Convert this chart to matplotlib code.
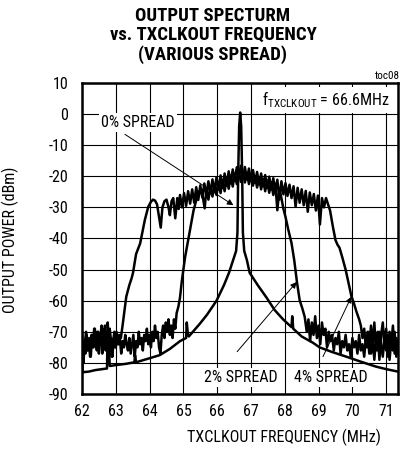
import matplotlib
matplotlib.use('Agg')
import matplotlib.pyplot as plt

# narrow sans face, close to the Arial Narrow of the original datasheet plot
FONT = ['Roboto Condensed', 'Liberation Sans', 'DejaVu Sans']
plt.rcParams['font.family'] = FONT
plt.rcParams['mathtext.fontset'] = 'custom'
plt.rcParams['mathtext.rm'] = 'Roboto Condensed'
plt.rcParams['axes.unicode_minus'] = False

# ---- data (MHz, dBm) ----
freq_0 = [62.00, 62.02, 62.20, 62.40, 62.60, 62.74, 62.76, 62.79, 62.82, 63.00,
          63.30, 63.55, 63.57, 63.60, 64.00, 64.30, 64.60, 64.90, 65.08, 65.10,
          65.13, 65.16, 65.48, 65.70, 65.98, 66.20, 66.35, 66.47, 66.56, 66.60,
          66.62, 66.65, 66.68, 66.71, 66.74, 66.76, 66.80, 66.88, 66.96, 67.20,
          67.46, 67.70, 67.95, 68.20, 68.22, 68.25, 68.50, 68.83, 69.03, 69.40,
          69.82, 70.22, 70.50, 70.70, 71.00, 71.35]
power_0 = [-75, -83, -82.8, -82.3, -82, -81.8, -67, -72, -81, -80.7,
           -80.3, -79.8, -77.5, -79.8, -78.5, -77.5, -75.5, -73, -72, -67,
           -70.5, -71.5, -67.5, -64.5, -60, -55, -51, -47, -44, -38,
           -20, -4, 0.5, -4, -20, -38, -44, -47, -51, -55,
           -59, -63, -66, -68.5, -65, -69, -71.5, -73.5, -75, -76.5,
           -78, -79.5, -80.5, -81.2, -82, -82.8]

freq_2 = [62.00, 62.04, 62.08, 62.12, 62.16, 62.20, 62.24, 62.28, 62.32, 62.36,
          62.40, 62.44, 62.48, 62.52, 62.56, 62.60, 62.64, 62.68, 62.72, 62.76,
          62.80, 62.84, 62.88, 62.92, 62.96, 63.00, 63.04, 63.08, 63.12, 63.16,
          63.20, 63.24, 63.28, 63.32, 63.36, 63.40, 63.44, 63.48, 63.52, 63.56,
          63.60, 63.64, 63.68, 63.72, 63.76, 63.80, 63.84, 63.88, 63.92, 63.96,
          64.00, 64.04, 64.08, 64.12, 64.16, 64.20, 64.24, 64.28, 64.32, 64.36,
          64.40, 64.44, 64.48, 64.52, 64.56, 64.60, 64.64, 64.68, 64.72, 64.76,
          64.80, 64.85, 64.90, 64.95, 65.00, 65.05, 65.10, 65.20, 65.30, 65.38,
          65.45, 65.53, 65.58, 65.63, 65.68, 65.74, 65.80, 65.86, 65.92, 65.98,
          66.04, 66.10, 66.16, 66.22, 66.28, 66.34, 66.40, 66.46, 66.52, 66.58,
          66.64, 66.70, 66.76, 66.82, 66.88, 66.94, 67.00, 67.06, 67.12, 67.18,
          67.24, 67.30, 67.36, 67.42, 67.48, 67.54, 67.60, 67.66, 67.72, 67.78,
          67.84, 67.90, 67.96, 68.02, 68.10, 68.20, 68.28, 68.36, 68.44, 68.52,
          68.59, 68.65, 68.70, 68.75, 68.80, 68.85, 68.90, 68.95, 69.00, 69.05,
          69.10, 69.15, 69.20, 69.25, 69.30, 69.35, 69.40, 69.45, 69.50, 69.55,
          69.60, 69.65, 69.70, 69.75, 69.80, 69.85, 69.90, 69.95, 70.00, 70.05,
          70.10, 70.15, 70.20, 70.25, 70.30, 70.35, 70.40, 70.45, 70.50, 70.55,
          70.60, 70.65, 70.70, 70.75, 70.80, 70.85, 70.90, 70.95, 71.00, 71.05,
          71.10, 71.15, 71.20, 71.25, 71.30, 71.35]
power_2 = [-72, -80, -74, -70, -76, -73, -78, -71, -75, -69,
           -73, -76, -70, -74, -71, -77, -72, -68, -74, -70,
           -76, -72, -78, -73, -70, -75, -71, -74, -72, -77,
           -73, -75, -71, -74, -76, -72, -77, -74, -71, -78,
           -73, -75, -70, -74, -72, -76, -71, -73, -69, -74,
           -71, -75, -70, -73, -68, -72, -70, -75, -77, -71,
           -68, -72, -67, -70, -66, -71, -68, -72, -66, -69,
           -64, -62, -59, -54, -50, -46, -43, -37, -31, -27.7,
           -25, -24.4, -27, -30.3, -24.0, -27.5, -23.3, -26.5, -22.6, -26.0,
           -21.9, -25.4, -21.2, -24.8, -20.6, -24.0, -19.8, -23.3, -19.2, -22.5,
           -18.4, -21.8, -18.5, -22.0, -18.9, -22.5, -19.4, -23.0, -19.9, -23.6,
           -20.4, -24.2, -20.9, -24.8, -21.4, -25.3, -21.9, -26.0, -22.4, -30.9,
           -24.0, -27, -30.5, -33, -37, -41.5, -47, -54, -59.8, -62.5,
           -65.2, -70, -66, -73, -67, -71, -65, -72, -68, -74,
           -67, -71, -69, -75, -70, -73, -71, -76, -72, -74,
           -70, -77, -73, -75, -71, -76, -74, -78, -72, -75,
           -73, -77, -71, -76, -74, -78, -72, -75, -70, -77,
           -73, -79, -72, -76, -70, -74, -78, -72, -76, -71,
           -79, -73, -76, -70, -78, -74]

freq_4 = [62.00, 62.03, 62.07, 62.10, 62.14, 62.18, 62.22, 62.26, 62.30, 62.34,
          62.38, 62.42, 62.46, 62.50, 62.54, 62.58, 62.62, 62.66, 62.70, 62.74,
          62.78, 62.82, 62.86, 62.90, 62.94, 62.98, 63.02, 63.06, 63.10, 63.15,
          63.20, 63.31, 63.40, 63.47, 63.51, 63.60, 63.72, 63.86, 63.96, 64.04,
          64.10, 64.16, 64.22, 64.28, 64.33, 64.38, 64.44, 64.50, 64.56, 64.60,
          64.65, 64.70, 64.76, 64.82, 64.86, 64.90, 64.96, 65.02, 65.08, 65.14,
          65.20, 65.26, 65.32, 65.38, 65.44, 65.50, 65.56, 65.62, 65.68, 65.74,
          65.80, 65.86, 65.92, 65.98, 66.04, 66.10, 66.16, 66.22, 66.28, 66.34,
          66.40, 66.46, 66.52, 66.58, 66.64, 66.70, 66.76, 66.82, 66.88, 66.94,
          67.00, 67.06, 67.12, 67.18, 67.24, 67.30, 67.36, 67.42, 67.48, 67.54,
          67.60, 67.66, 67.72, 67.78, 67.84, 67.90, 67.96, 68.02, 68.08, 68.14,
          68.20, 68.26, 68.32, 68.38, 68.44, 68.50, 68.56, 68.62, 68.68, 68.74,
          68.80, 68.86, 68.92, 68.98, 69.04, 69.10, 69.16, 69.22, 69.28, 69.34,
          69.42, 69.50, 69.56, 69.62, 69.70, 69.80, 69.90, 69.97, 70.05, 70.12,
          70.20, 70.25, 70.30, 70.35, 70.40, 70.45, 70.50, 70.55, 70.60, 70.65,
          70.70, 70.75, 70.80, 70.85, 70.90, 70.95, 71.00, 71.05, 71.10, 71.15,
          71.20, 71.25, 71.30, 71.35]
power_4 = [-70, -78, -73, -77, -71, -76, -72, -78, -71, -75,
           -69, -74, -70, -77, -72, -68, -74, -69, -76, -71,
           -75, -69, -73, -78, -72, -75, -70, -74, -71, -72,
           -68, -58.7, -55, -52.7, -51, -45, -41.6, -34, -29.8, -28.2,
           -27.5, -27.8, -29, -33, -36.5, -30, -28.0, -27.5, -30, -32.5,
           -28, -27, -33.5, -27, -30.5, -26.0, -30.0, -25.4, -29.5, -24.8,
           -28.8, -24.2, -28.5, -23.5, -27.6, -22.9, -26.8, -22.3, -26.0, -21.6,
           -25.5, -21.0, -24.8, -20.3, -24.3, -19.7, -23.7, -19.1, -23.0, -18.4,
           -22.3, -17.8, -21.5, -17.1, -20.5, -16.6, -20.5, -17.0, -21.0, -17.5,
           -21.6, -18.0, -22.1, -18.6, -22.6, -19.1, -23.2, -19.6, -23.7, -20.1,
           -24.3, -20.6, -24.8, -21.1, -27.5, -21.6, -25.8, -22.2, -26.3, -22.7,
           -27.0, -23.2, -29.8, -23.7, -28.5, -24.2, -29.3, -24.7, -31.4, -25.2,
           -29.3, -25.7, -31.0, -26.2, -35.5, -27.0, -30.0, -27.0, -29.0, -31.0,
           -36, -40.5, -42, -43, -46, -50, -55, -58.5, -61, -63.5,
           -66, -68, -72, -69, -75, -70, -77, -68, -74, -67,
           -76, -70, -79, -71, -67, -75, -69, -78, -70, -74,
           -68, -77, -72, -75]

x_ticks = [62, 63, 64, 65, 66, 67, 68, 69, 70, 71]
y_ticks = [-90, -80, -70, -60, -50, -40, -30, -20, -10, 0, 10]

fig = plt.figure(figsize=(4.01, 4.54), dpi=100)
ax = fig.add_axes([82 / 401, 1 - 394 / 454, 316 / 401, 311 / 454])

for f, p in [(freq_0, power_0), (freq_2, power_2), (freq_4, power_4)]:
    ax.plot(f, p, color='black', lw=1.8, solid_joinstyle='round', zorder=3)

ax.set_xlim(62, 71.35)
ax.set_ylim(-90, 10)
ax.set_xticks(x_ticks)
ax.set_yticks(y_ticks)
ax.tick_params(length=0, labelsize=11.5, colors='black')
ax.tick_params(axis='y', pad=10)
ax.tick_params(axis='x', pad=7)
ax.grid(True, color='black', lw=0.8)
ax.set_axisbelow(True)
for sp in ax.spines.values():
    sp.set_linewidth(1.8)
    sp.set_zorder(5)

box = dict(facecolor='white', edgecolor='none', pad=1.5)
arrow = dict(arrowstyle='-|>', color='black', lw=0.7, mutation_scale=9, shrinkA=0, shrinkB=0)

ax.text(63.66, -2.6, '0% SPREAD', ha='center', va='center', fontsize=11.5, bbox=box, zorder=6)
ax.annotate('', xy=(66.48, -29.3), xytext=(63.27, -6.5), arrowprops=arrow, zorder=6)

ax.text(66.71, -84.6, '2% SPREAD', ha='center', va='center', fontsize=11.5, bbox=box, zorder=6)
ax.annotate('', xy=(68.35, -54.0), xytext=(66.59, -76.4), arrowprops=arrow, zorder=6)

ax.text(69.37, -84.6, '4% SPREAD', ha='center', va='center', fontsize=11.5, bbox=box, zorder=6)
ax.annotate('', xy=(69.97, -58.7), xytext=(69.13, -78.0), arrowprops=arrow, zorder=6)

ax.text(67.32, 4.5, r'$\mathregular{f_{TXCLKOUT}}$ = 66.6MHz', ha='left', va='center',
        fontsize=11.5, bbox=dict(facecolor='white', edgecolor='none', pad=2), zorder=6)

fig.text(213 / 401, 1 - 35.5 / 454, 'OUTPUT SPECTURM\nvs. TXCLKOUT FREQUENCY\n(VARIOUS SPREAD)',
         ha='center', va='center', fontsize=13.5, fontweight='bold', linespacing=1.05)
fig.text(400 / 401, 1 - 76 / 454, 'toc08', ha='right', va='center', fontsize=8)
fig.text(10 / 401, 1 - 240 / 454, 'OUTPUT POWER (dBm)', rotation=90, ha='center', va='center', fontsize=11.5)
fig.text(284 / 401, 1 - 437 / 454, 'TXCLKOUT FREQUENCY (MHz)', ha='center', va='center', fontsize=11.5)

fig.savefig('out.png', dpi=100)
